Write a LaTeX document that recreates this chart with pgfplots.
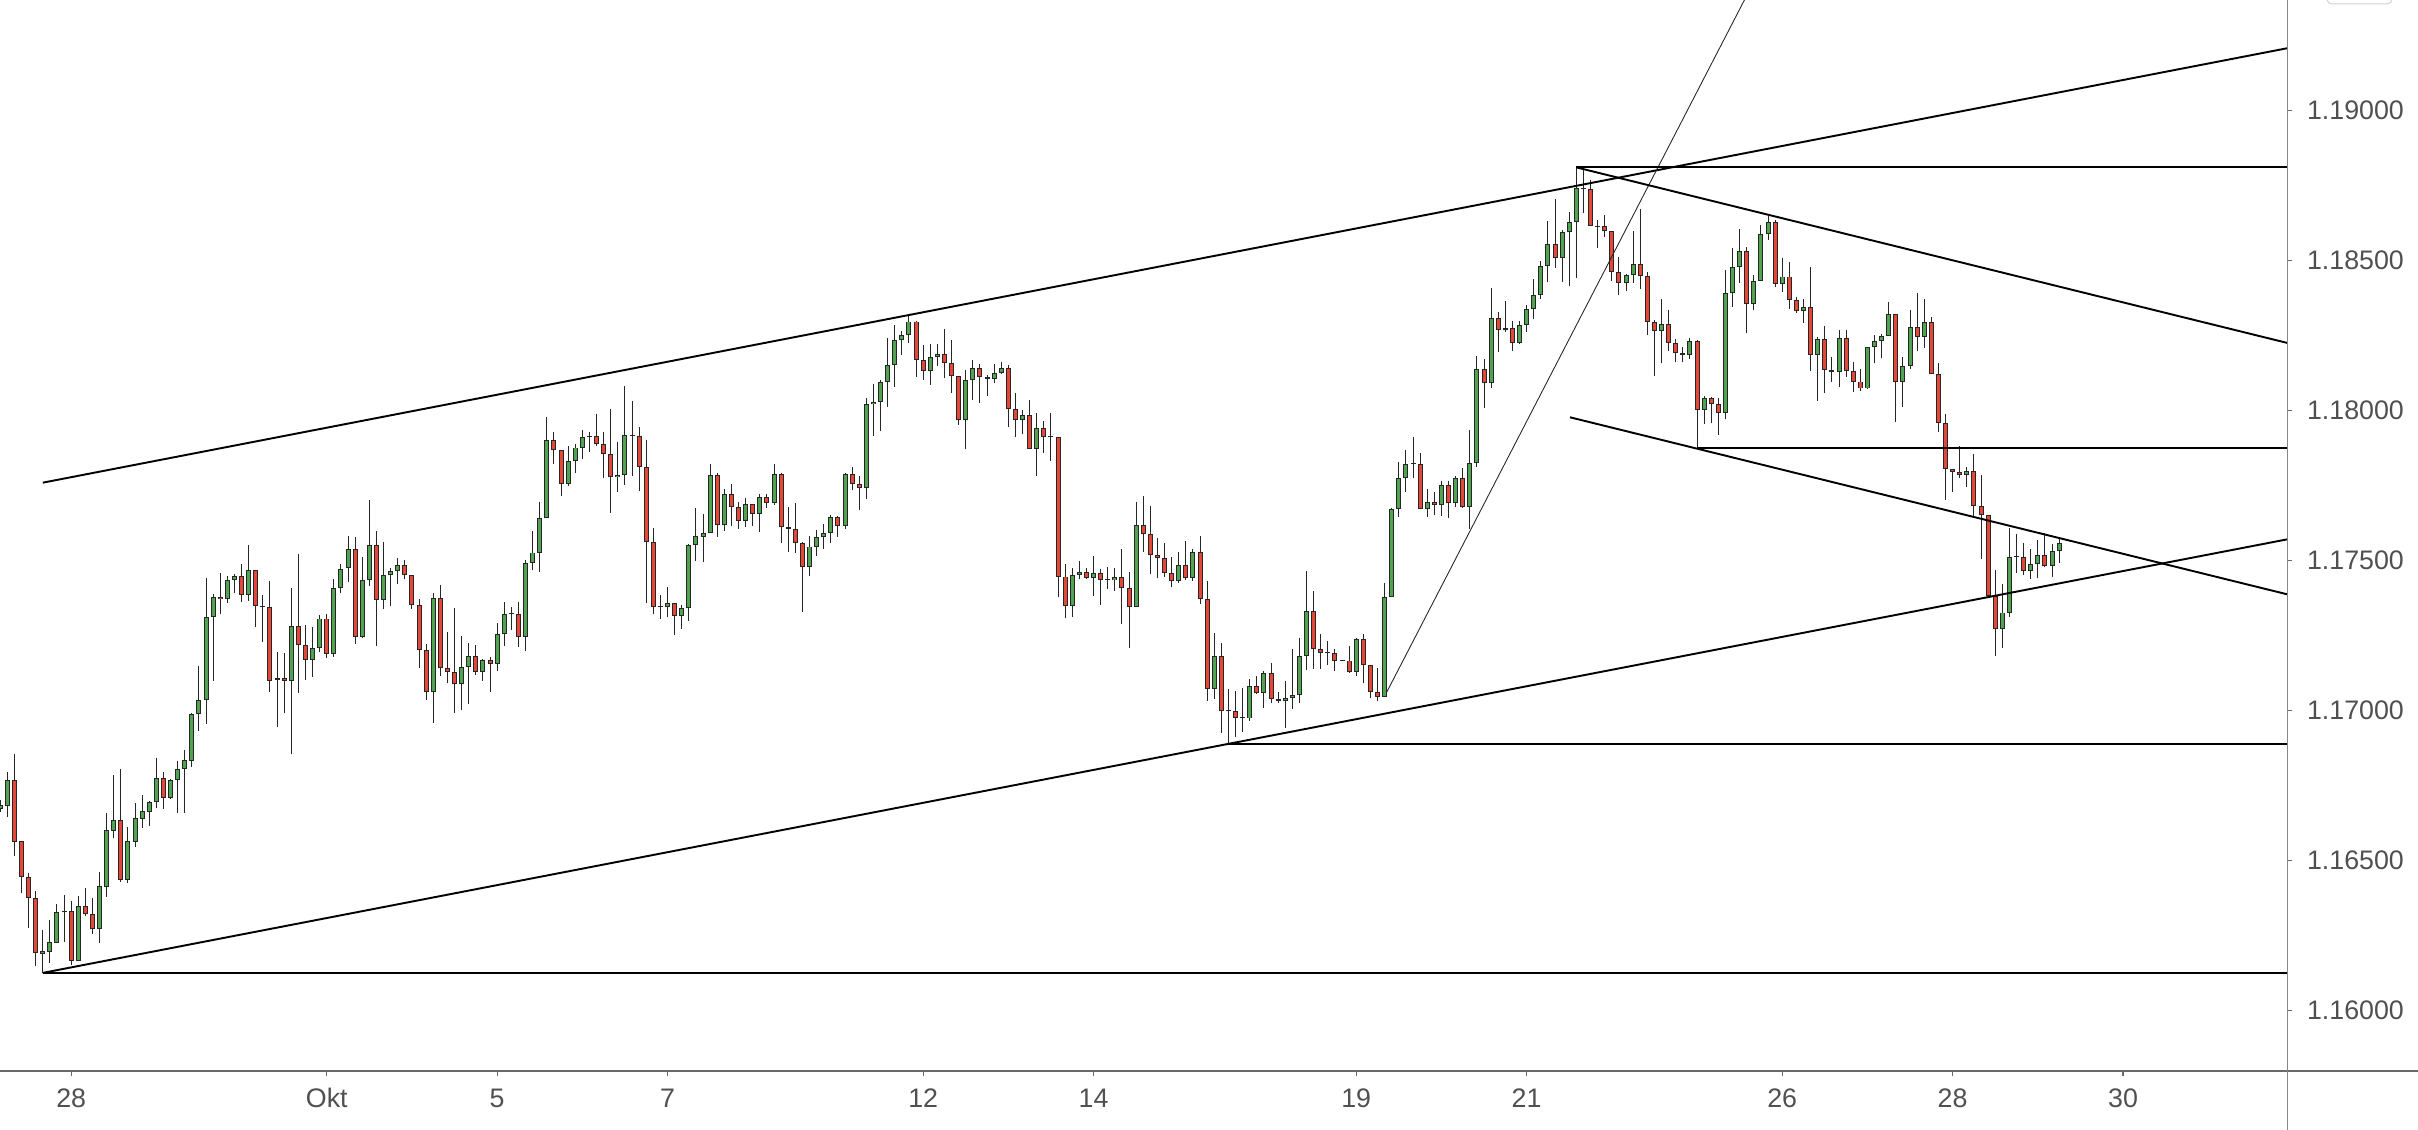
\documentclass[border=0pt]{standalone}
\usepackage{pgfplots}
\pgfplotsset{compat=1.18}
\usepackage{pgfplotstable}
\usepackage{fontspec}
\setmainfont{Liberation Sans}
\definecolor{cgreen}{RGB}{80,163,80}
\definecolor{cred}{RGB}{228,70,56}
\definecolor{tgray}{RGB}{80,80,80}
\definecolor{agray}{RGB}{105,105,105}

\pgfplotstableread{
k o h l c
0 1.16671 1.16702 1.16663 1.16686
1 1.16683 1.16795 1.16647 1.16769
2 1.16769 1.16856 1.16517 1.16563
3 1.16566 1.16566 1.16391 1.16445
4 1.16445 1.16460 1.16277 1.16375
5 1.16375 1.16400 1.16149 1.16191
6 1.16190 1.16269 1.16126 1.16198
7 1.16197 1.16302 1.16160 1.16228
8 1.16227 1.16356 1.16225 1.16328
9 1.16328 1.16386 1.16230 1.16332
10 1.16332 1.16367 1.16152 1.16167
11 1.16167 1.16382 1.16167 1.16350
12 1.16350 1.16408 1.16317 1.16321
13 1.16321 1.16375 1.16256 1.16271
14 1.16271 1.16463 1.16227 1.16416
15 1.16413 1.16658 1.16380 1.16602
16 1.16600 1.16786 1.16575 1.16636
17 1.16636 1.16806 1.16430 1.16436
18 1.16436 1.16613 1.16425 1.16566
19 1.16563 1.16691 1.16545 1.16641
20 1.16640 1.16719 1.16610 1.16666
21 1.16663 1.16700 1.16617 1.16695
22 1.16695 1.16841 1.16677 1.16775
23 1.16775 1.16797 1.16673 1.16710
24 1.16710 1.16772 1.16706 1.16769
25 1.16769 1.16831 1.16658 1.16805
26 1.16805 1.16869 1.16660 1.16836
27 1.16833 1.16991 1.16813 1.16989
28 1.16989 1.17149 1.16933 1.17035
29 1.17035 1.17443 1.16955 1.17311
30 1.17311 1.17389 1.17100 1.17378
31 1.17378 1.17458 1.17321 1.17371
32 1.17371 1.17450 1.17360 1.17435
33 1.17435 1.17455 1.17391 1.17448
34 1.17448 1.17489 1.17363 1.17386
35 1.17386 1.17552 1.17367 1.17469
36 1.17469 1.17469 1.17280 1.17349
37 1.17348 1.17386 1.17230 1.17345
38 1.17345 1.17432 1.17063 1.17100
39 1.17102 1.17196 1.16945 1.17108
40 1.17108 1.17191 1.16991 1.17099
41 1.17099 1.17408 1.16855 1.17283
42 1.17283 1.17522 1.17060 1.17218
43 1.17218 1.17286 1.17102 1.17169
44 1.17169 1.17278 1.17113 1.17208
45 1.17208 1.17318 1.17197 1.17307
46 1.17307 1.17322 1.17175 1.17189
47 1.17189 1.17438 1.17180 1.17410
48 1.17410 1.17489 1.17391 1.17473
49 1.17475 1.17582 1.17430 1.17538
50 1.17538 1.17580 1.17222 1.17247
51 1.17247 1.17511 1.17241 1.17435
52 1.17435 1.17702 1.17416 1.17551
53 1.17551 1.17599 1.17216 1.17369
54 1.17369 1.17561 1.17340 1.17451
55 1.17451 1.17475 1.17349 1.17465
56 1.17465 1.17508 1.17421 1.17485
57 1.17485 1.17502 1.17438 1.17451
58 1.17451 1.17451 1.17340 1.17351
59 1.17351 1.17373 1.17143 1.17201
60 1.17201 1.17222 1.17036 1.17063
61 1.17063 1.17391 1.16960 1.17375
62 1.17375 1.17419 1.17116 1.17141
63 1.17141 1.17261 1.17091 1.17130
64 1.17130 1.17341 1.16991 1.17088
65 1.17088 1.17250 1.17002 1.17145
66 1.17145 1.17225 1.17021 1.17181
67 1.17181 1.17218 1.17120 1.17128
68 1.17128 1.17173 1.17100 1.17168
69 1.17168 1.17180 1.17063 1.17155
70 1.17155 1.17291 1.17133 1.17255
71 1.17255 1.17361 1.17217 1.17323
72 1.17323 1.17346 1.17269 1.17326
73 1.17323 1.17361 1.17213 1.17247
74 1.17247 1.17502 1.17200 1.17493
75 1.17493 1.17599 1.17469 1.17527
76 1.17527 1.17696 1.17462 1.17641
77 1.17641 1.17979 1.17641 1.17901
78 1.17901 1.17929 1.17822 1.17868
79 1.17868 1.17868 1.17716 1.17755
80 1.17755 1.17882 1.17750 1.17831
81 1.17831 1.17890 1.17793 1.17877
82 1.17877 1.17936 1.17840 1.17911
83 1.17911 1.17930 1.17863 1.17913
84 1.17915 1.17989 1.17882 1.17888
85 1.17888 1.17930 1.17777 1.17855
86 1.17855 1.18005 1.17660 1.17778
87 1.17778 1.17894 1.17730 1.17785
88 1.17785 1.18082 1.17752 1.17918
89 1.17918 1.18032 1.17782 1.17916
90 1.17915 1.17947 1.17733 1.17813
91 1.17813 1.17902 1.17358 1.17561
92 1.17561 1.17609 1.17321 1.17345
93 1.17345 1.17386 1.17307 1.17346
94 1.17345 1.17412 1.17311 1.17358
95 1.17358 1.17358 1.17253 1.17317
96 1.17317 1.17352 1.17273 1.17341
97 1.17341 1.17556 1.17300 1.17552
98 1.17552 1.17676 1.17500 1.17581
99 1.17580 1.17656 1.17497 1.17591
100 1.17591 1.17822 1.17591 1.17785
101 1.17785 1.17793 1.17580 1.17618
102 1.17618 1.17738 1.17600 1.17721
103 1.17721 1.17756 1.17617 1.17678
104 1.17678 1.17695 1.17607 1.17631
105 1.17631 1.17708 1.17613 1.17688
106 1.17688 1.17688 1.17617 1.17655
107 1.17655 1.17721 1.17597 1.17711
108 1.17711 1.17722 1.17677 1.17691
109 1.17691 1.17822 1.17686 1.17788
110 1.17788 1.17793 1.17560 1.17611
111 1.17611 1.17678 1.17530 1.17605
112 1.17605 1.17691 1.17525 1.17558
113 1.17558 1.17563 1.17330 1.17478
114 1.17478 1.17583 1.17450 1.17547
115 1.17547 1.17602 1.17517 1.17578
116 1.17578 1.17621 1.17540 1.17593
117 1.17593 1.17651 1.17558 1.17645
118 1.17645 1.17649 1.17580 1.17615
119 1.17615 1.17793 1.17605 1.17788
120 1.17788 1.17811 1.17736 1.17755
121 1.17755 1.17782 1.17669 1.17741
122 1.17741 1.18041 1.17706 1.18021
123 1.18021 1.18089 1.17917 1.18030
124 1.18030 1.18102 1.17933 1.18095
125 1.18095 1.18241 1.18013 1.18151
126 1.18151 1.18286 1.18080 1.18235
127 1.18235 1.18267 1.18186 1.18251
128 1.18251 1.18316 1.18227 1.18297
129 1.18297 1.18300 1.18113 1.18168
130 1.18168 1.18219 1.18102 1.18132
131 1.18132 1.18222 1.18086 1.18178
132 1.18178 1.18222 1.18149 1.18188
133 1.18188 1.18271 1.18110 1.18158
134 1.18158 1.18236 1.18060 1.18115
135 1.18115 1.18115 1.17952 1.17968
136 1.17968 1.18136 1.17871 1.18102
137 1.18102 1.18169 1.18036 1.18141
138 1.18141 1.18156 1.18025 1.18111
139 1.18111 1.18119 1.18049 1.18105
140 1.18105 1.18156 1.18091 1.18125
141 1.18125 1.18163 1.18122 1.18141
142 1.18141 1.18152 1.17945 1.18005
143 1.18005 1.18058 1.17911 1.17968
144 1.17968 1.18002 1.17921 1.17985
145 1.17985 1.18036 1.17871 1.17873
146 1.17873 1.17993 1.17783 1.17941
147 1.17941 1.17967 1.17858 1.17911
148 1.17911 1.17991 1.17833 1.17913
149 1.17913 1.17913 1.17378 1.17447
150 1.17447 1.17489 1.17308 1.17349
151 1.17349 1.17475 1.17313 1.17451
152 1.17451 1.17499 1.17438 1.17461
153 1.17461 1.17475 1.17439 1.17441
154 1.17441 1.17516 1.17383 1.17458
155 1.17458 1.17473 1.17353 1.17435
156 1.17435 1.17478 1.17404 1.17436
157 1.17434 1.17476 1.17400 1.17445
158 1.17445 1.17539 1.17290 1.17408
159 1.17408 1.17463 1.17208 1.17346
160 1.17346 1.17696 1.17346 1.17619
161 1.17619 1.17716 1.17530 1.17588
162 1.17588 1.17682 1.17457 1.17518
163 1.17518 1.17576 1.17441 1.17508
164 1.17508 1.17558 1.17447 1.17459
165 1.17459 1.17511 1.17411 1.17431
166 1.17431 1.17530 1.17427 1.17485
167 1.17485 1.17566 1.17436 1.17441
168 1.17441 1.17539 1.17433 1.17528
169 1.17528 1.17582 1.17355 1.17371
170 1.17371 1.17432 1.17033 1.17071
171 1.17071 1.17258 1.17039 1.17181
172 1.17181 1.17225 1.16927 1.16998
173 1.16998 1.17072 1.16890 1.17000
174 1.16998 1.17067 1.16911 1.16975
175 1.16975 1.17075 1.16930 1.16976
176 1.16974 1.17104 1.16967 1.17081
177 1.17081 1.17115 1.17056 1.17060
178 1.17060 1.17131 1.17010 1.17125
179 1.17125 1.17160 1.17025 1.17038
180 1.17038 1.17061 1.17025 1.17031
181 1.17031 1.17099 1.16943 1.17041
182 1.17041 1.17205 1.17007 1.17051
183 1.17051 1.17241 1.17026 1.17182
184 1.17182 1.17466 1.17136 1.17331
185 1.17331 1.17399 1.17139 1.17205
186 1.17205 1.17256 1.17140 1.17193
187 1.17193 1.17232 1.17152 1.17192
188 1.17191 1.17205 1.17133 1.17167
189 1.17167 1.17170 1.17165 1.17168
190 1.17167 1.17217 1.17127 1.17130
191 1.17130 1.17241 1.17117 1.17238
192 1.17238 1.17256 1.17091 1.17151
193 1.17151 1.17151 1.17043 1.17061
194 1.17061 1.17141 1.17033 1.17047
195 1.17047 1.17425 1.17047 1.17378
196 1.17378 1.17677 1.17378 1.17671
197 1.17671 1.17830 1.17647 1.17775
198 1.17775 1.17870 1.17730 1.17822
199 1.17822 1.17913 1.17775 1.17825
200 1.17822 1.17860 1.17671 1.17671
201 1.17671 1.17739 1.17647 1.17695
202 1.17695 1.17730 1.17652 1.17685
203 1.17685 1.17766 1.17650 1.17751
204 1.17751 1.17766 1.17643 1.17691
205 1.17691 1.17782 1.17680 1.17775
206 1.17775 1.17808 1.17675 1.17678
207 1.17678 1.17936 1.17605 1.17825
208 1.17825 1.18182 1.17813 1.18139
209 1.18139 1.18171 1.18010 1.18091
210 1.18091 1.18410 1.18077 1.18308
211 1.18308 1.18330 1.18197 1.18268
212 1.18268 1.18366 1.18263 1.18275
213 1.18275 1.18299 1.18200 1.18225
214 1.18225 1.18300 1.18221 1.18286
215 1.18286 1.18352 1.18263 1.18338
216 1.18338 1.18438 1.18305 1.18385
217 1.18385 1.18499 1.18373 1.18481
218 1.18481 1.18632 1.18430 1.18555
219 1.18555 1.18705 1.18475 1.18508
220 1.18508 1.18602 1.18430 1.18595
221 1.18595 1.18661 1.18417 1.18628
222 1.18628 1.18811 1.18443 1.18742
223 1.18738 1.18802 1.18658 1.18740
224 1.18738 1.18769 1.18615 1.18615
225 1.18615 1.18636 1.18541 1.18613
226 1.18615 1.18651 1.18578 1.18598
227 1.18598 1.18598 1.18432 1.18461
228 1.18461 1.18511 1.18385 1.18425
229 1.18425 1.18456 1.18400 1.18451
230 1.18451 1.18599 1.18427 1.18488
231 1.18488 1.18671 1.18405 1.18449
232 1.18449 1.18462 1.18251 1.18295
233 1.18295 1.18302 1.18117 1.18266
234 1.18266 1.18372 1.18158 1.18288
235 1.18288 1.18336 1.18199 1.18225
236 1.18225 1.18238 1.18162 1.18191
237 1.18191 1.18213 1.18161 1.18185
238 1.18185 1.18241 1.18173 1.18231
239 1.18231 1.18236 1.17875 1.18002
240 1.18002 1.18049 1.17955 1.18042
241 1.18042 1.18047 1.17958 1.18021
242 1.18021 1.18041 1.17919 1.17991
243 1.17991 1.18469 1.17971 1.18391
244 1.18391 1.18543 1.18347 1.18478
245 1.18478 1.18606 1.18427 1.18531
246 1.18531 1.18547 1.18258 1.18355
247 1.18355 1.18451 1.18335 1.18433
248 1.18433 1.18619 1.18433 1.18588
249 1.18588 1.18650 1.18569 1.18628
250 1.18628 1.18636 1.18411 1.18422
251 1.18422 1.18508 1.18397 1.18447
252 1.18447 1.18495 1.18340 1.18369
253 1.18369 1.18380 1.18325 1.18331
254 1.18331 1.18371 1.18293 1.18345
255 1.18345 1.18478 1.18133 1.18185
256 1.18185 1.18245 1.18033 1.18238
257 1.18238 1.18282 1.18060 1.18135
258 1.18135 1.18180 1.18097 1.18128
259 1.18128 1.18269 1.18080 1.18242
260 1.18242 1.18269 1.18113 1.18131
261 1.18131 1.18161 1.18063 1.18097
262 1.18097 1.18138 1.18067 1.18074
263 1.18074 1.18213 1.18072 1.18211
264 1.18211 1.18252 1.18158 1.18232
265 1.18232 1.18255 1.18174 1.18249
266 1.18249 1.18361 1.18249 1.18321
267 1.18321 1.18321 1.17963 1.18097
268 1.18097 1.18178 1.18011 1.18149
269 1.18149 1.18336 1.18138 1.18278
270 1.18278 1.18391 1.18200 1.18246
271 1.18246 1.18372 1.18208 1.18295
272 1.18295 1.18311 1.18121 1.18121
273 1.18121 1.18160 1.17930 1.17958
274 1.17958 1.17989 1.17702 1.17805
275 1.17805 1.17805 1.17730 1.17795
276 1.17795 1.17883 1.17775 1.17785
277 1.17785 1.17813 1.17747 1.17798
278 1.17798 1.17855 1.17649 1.17682
279 1.17682 1.17786 1.17506 1.17651
280 1.17651 1.17651 1.17382 1.17382
281 1.17382 1.17469 1.17182 1.17271
282 1.17271 1.17422 1.17210 1.17327
283 1.17327 1.17608 1.17311 1.17513
284 1.17512 1.17588 1.17460 1.17515
285 1.17511 1.17558 1.17452 1.17466
286 1.17466 1.17538 1.17439 1.17488
287 1.17488 1.17569 1.17441 1.17518
288 1.17518 1.17593 1.17478 1.17482
289 1.17482 1.17556 1.17444 1.17532
290 1.17532 1.17580 1.17493 1.17558
}\candles

\begin{document}
\begin{tikzpicture}
\useasboundingbox (0,0) rectangle (604.5pt,282.5pt);
\begin{axis}[
  at={(0pt,14.75pt)}, anchor=south west,
  scale only axis, width=571.75pt, height=267.75pt,
  xmin=-0.027, xmax=322.1, ymin=1.15799, ymax=1.19369,
  axis line style={draw=none},
  xtick pos=left, ytick pos=right, yticklabel pos=right,
  tick align=outside, major tick length=1.2pt,
  tick style={agray, line width=0.3pt},
  xtick={10,46,70,94,130,154,191,215,251,275,299},
  xticklabels={28,Okt,5,7,12,14,19,21,26,28,30},
  ytick={1.16,1.165,1.17,1.175,1.18,1.185,1.19},
  yticklabels={1.16000,1.16500,1.17000,1.17500,1.18000,1.18500,1.19000},
  ticklabel style={font=\fontsize{6.7pt}{8pt}\selectfont, text=tgray},
  xticklabel style={anchor=base, inner sep=0pt, yshift=-8pt},
  yticklabel style={anchor=west, inner sep=0pt, xshift=3.6pt},
  error bars/error mark=none,
]
% wicks
\addplot[draw=none, mark=none, error bars/.cd, y dir=plus, y explicit,
  error bar style={line width=0.25pt, draw=black!85}]
  table[x=k, y=l, y error plus expr={\thisrow{h}-\thisrow{l}}] {\candles};
% body outlines
\addplot[draw=none, mark=none, error bars/.cd, y dir=plus, y explicit,
  error bar style={line width=1.25pt, draw=black!85}]
  table[x=k, y expr={min(\thisrow{o},\thisrow{c})},
        y error plus expr={max(abs(\thisrow{c}-\thisrow{o}),0.000035)}] {\candles};
% green bodies
\addplot[draw=none, mark=none, restrict expr to domain={\thisrow{c}-\thisrow{o}}{0.00007:1},
  error bars/.cd, y dir=plus, y explicit,
  error bar style={line width=0.75pt, draw=cgreen}]
  table[x=k, y expr={\thisrow{o}+0.00003},
        y error plus expr={\thisrow{c}-\thisrow{o}-0.00006}] {\candles};
% red bodies
\addplot[draw=none, mark=none, restrict expr to domain={\thisrow{o}-\thisrow{c}}{0.00007:1},
  error bars/.cd, y dir=plus, y explicit,
  error bar style={line width=0.75pt, draw=cred}]
  table[x=k, y expr={\thisrow{c}+0.00003},
        y error plus expr={\thisrow{o}-\thisrow{c}-0.00006}] {\candles};
% trend lines
\addplot[black, line width=0.48pt] coordinates {(6,1.17760) (322.1,1.19208)};
\addplot[black, line width=0.48pt] coordinates {(6,1.16126) (322.1,1.17571)};
\addplot[black, line width=0.48pt] coordinates {(6,1.16126) (322.1,1.16126)};
\addplot[black, line width=0.48pt] coordinates {(173,1.16890) (322.1,1.16890)};
\addplot[black!85, line width=0.22pt] coordinates {(195.3,1.17062) (250,1.19567)};
\addplot[black, line width=0.48pt] coordinates {(222,1.18811) (322.1,1.18811)};
\addplot[black, line width=0.48pt] coordinates {(222,1.18811) (322.1,1.18226)};
\addplot[black, line width=0.48pt] coordinates {(221.1,1.17978) (322.1,1.17388)};
\addplot[black, line width=0.48pt] coordinates {(239,1.17875) (322.1,1.17875)};
\end{axis}
\draw[agray, line width=0.4pt] (0,14.75pt) -- (604.5pt,14.75pt);
\draw[agray!80, line width=0.25pt] (571.75pt,0) -- (571.75pt,282.5pt);
\draw[gray!35, line width=0.25pt, rounded corners=1.2pt] (581.75pt,281.5pt) rectangle (598pt,290pt);
\end{tikzpicture}
\end{document}
